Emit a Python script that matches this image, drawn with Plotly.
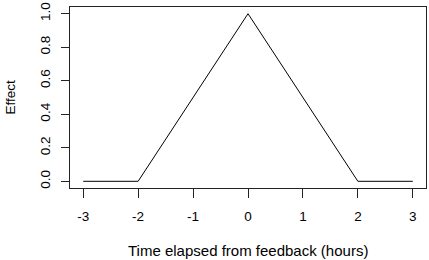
import plotly.graph_objects as go

time_hours = [-3, -2, 0, 2, 3]
effect = [0, 0, 1, 0, 0]
x_ticks = [-3, -2, -1, 0, 1, 2, 3]
y_ticks = [0.0, 0.2, 0.4, 0.6, 0.8, 1.0]

FONT = "Liberation Sans, Arial, sans-serif"
FS_TICK = 13.5

fig = go.Figure()
fig.add_trace(go.Scatter(x=time_hours, y=effect, mode="lines",
                         line=dict(color="black", width=1), showlegend=False,
                         hoverinfo="skip"))

fig.update_layout(
    width=429, height=260,
    margin=dict(l=70, r=2, t=2, b=72),
    paper_bgcolor="white", plot_bgcolor="white",
    font=dict(family=FONT, size=FS_TICK, color="black"),
    xaxis=dict(range=[-3.24, 3.24], tickvals=x_ticks, ticktext=[str(v) for v in x_ticks],
               showgrid=False, zeroline=False, showline=True, mirror=True,
               linecolor="#222", linewidth=1, ticks="outside", ticklen=9,
               tickcolor="#222", tickwidth=1, ticklabelstandoff=7,
               ticklabeloverflow="allow"),
    yaxis=dict(range=[-0.04, 1.04], tickvals=y_ticks, ticktext=[f"{v:.1f}" for v in y_ticks],
               tickangle=-90,
               showgrid=False, zeroline=False, showline=True, mirror=True,
               linecolor="#222", linewidth=1, ticks="outside", ticklen=8,
               tickcolor="#222", tickwidth=1, ticklabelstandoff=6,
               ticklabeloverflow="allow"),
    annotations=[
        dict(text="Time elapsed from feedback (hours)", xref="paper", yref="paper",
             x=0.5, y=0, yshift=-62, xanchor="center", yanchor="middle",
             showarrow=False, font=dict(size=15)),
        dict(text="Effect", xref="paper", yref="paper", x=0, y=0.5, xshift=-60,
             textangle=-90, xanchor="center", yanchor="middle",
             showarrow=False, font=dict(size=13.5)),
    ],
)

fig.write_html("out.html")
